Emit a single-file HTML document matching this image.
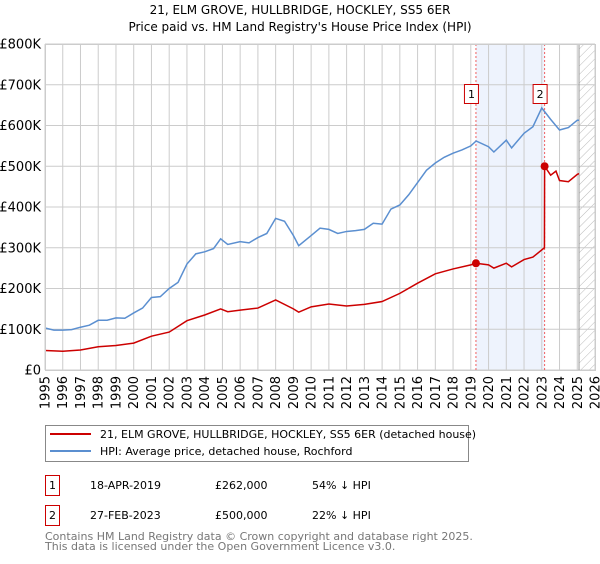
<!DOCTYPE html>
<html><head><meta charset="utf-8"><style>
body{margin:0;background:#fff;font-family:"DejaVu Sans","Liberation Sans",sans-serif;}
svg text{font-family:"DejaVu Sans","Liberation Sans",sans-serif;}
</style></head><body>
<svg id="chart" width="600" height="560" xmlns="http://www.w3.org/2000/svg">
<defs><pattern id="hatch" width="6" height="6" patternUnits="userSpaceOnUse" patternTransform="rotate(45)"><line x1="0" y1="0" x2="0" y2="6" stroke="#bbb" stroke-width="1"/></pattern></defs>
<text x="300" y="14" text-anchor="middle" font-size="12">21, ELM GROVE, HULLBRIDGE, HOCKLEY, SS5 6ER</text>
<text x="300" y="31" text-anchor="middle" font-size="12">Price paid vs. HM Land Registry's House Price Index (HPI)</text>
<g id="grid"></g><g id="marks"></g>
<rect x="45.5" y="425.5" width="423" height="36" fill="#fff" stroke="#888"/>
<line x1="50" y1="434" x2="91" y2="434" stroke="#cc0000" stroke-width="2"/>
<text x="100" y="438" font-size="11">21, ELM GROVE, HULLBRIDGE, HOCKLEY, SS5 6ER (detached house)</text>
<line x1="50" y1="451" x2="91" y2="451" stroke="#5b8fd0" stroke-width="2"/>
<text x="100" y="455" font-size="11">HPI: Average price, detached house, Rochford</text>
<g font-size="11">
<rect x="45.5" y="475.5" width="14" height="20" fill="none" stroke="#cc0000"/><text x="52.5" y="489" text-anchor="middle">1</text>
<text x="90" y="489">18-APR-2019</text><text x="215" y="489">£262,000</text><text x="312" y="489">54% ↓ HPI</text></g>
<g font-size="11">
<rect x="45.5" y="505.5" width="14" height="20" fill="none" stroke="#cc0000"/><text x="52.5" y="519" text-anchor="middle">2</text>
<text x="90" y="519">27-FEB-2023</text><text x="215" y="519">£500,000</text><text x="312" y="519">22% ↓ HPI</text></g>
<text x="45" y="540" font-size="11" fill="#777">Contains HM Land Registry data © Crown copyright and database right 2025.</text>
<text x="45" y="550" font-size="11" fill="#777">This data is licensed under the Open Government Licence v3.0.</text>
</svg>
<script>
const hpiYears=[1995,1995.5,1996,1996.5,1997,1997.5,1998,1998.5,1999,1999.5,2000,2000.5,2001,2001.5,2002,2002.5,2003,2003.5,2004,2004.5,2004.9,2005.3,2006,2006.5,2007,2007.5,2008,2008.5,2009,2009.3,2010,2010.5,2011,2011.5,2012,2012.5,2013,2013.5,2014,2014.5,2015,2015.5,2016,2016.5,2017,2017.5,2018,2018.5,2019,2019.3,2020,2020.3,2021,2021.3,2022,2022.5,2023,2023.5,2024,2024.5,2025,2025.1];
const hpiValues=[103,98,98,99,105,110,122,122,128,127,140,152,178,180,200,215,260,285,290,298,322,308,315,312,325,335,372,365,330,305,330,348,345,335,340,342,345,360,358,395,405,430,460,490,508,522,532,540,550,562,548,535,564,545,581,597,643,615,589,595,613,613];
const ppYears=[1995,1996,1997,1998,1999,2000,2001,2002,2003,2004,2004.9,2005.3,2006,2007,2008,2009,2009.3,2010,2011,2012,2013,2014,2015,2016,2017,2018,2019,2019.29,2020,2020.3,2021,2021.3,2022,2022.5,2023.15,2023.16,2023.5,2023.8,2024,2024.5,2025,2025.1];
const ppValues=[48,46,49,57,60,66,83,93,121,135,150,143,147,152,172,150,142,155,162,157,161,168,188,213,236,248,258,262,258,250,262,253,271,277,300,500,478,488,465,462,480,482];
const saleYears=[2019.29,2023.16];
const saleValues=[262,500];
const saleLabels=["1","2"];
const yTicks=[0,100,200,300,400,500,600,700,800];
const yTickLabels=["£0","£100K","£200K","£300K","£400K","£500K","£600K","£700K","£800K"];
const NS="http://www.w3.org/2000/svg";
const X0=45,X1=595,Y0=370,Y1=44;
const xs=y=>X0+(y-1995)*(X1-X0)/31;
const ys=v=>Y0-v*(Y0-Y1)/800;
function mk(p,t,a){const e=document.createElementNS(NS,t);for(const k in a)e.setAttribute(k,a[k]);p.appendChild(e);return e;}
const grid=document.getElementById('grid'),marks=document.getElementById('marks');
const sh=mk(grid,'rect',{x:xs(saleYears[0]),y:Y1,width:xs(saleYears[1])-xs(saleYears[0]),height:Y0-Y1,fill:'#eef3fd'});


const ht=mk(grid,'rect',{x:xs(2025.1),y:Y1,width:X1-xs(2025.1),height:Y0-Y1,fill:'url(#hatch)'});


for(let yr=1995;yr<=2026;yr++){
 mk(grid,'line',{x1:xs(yr),x2:xs(yr),y1:Y1,y2:Y0,stroke:'#ccc'});
 const t=mk(grid,'text',{x:0,y:0,'font-size':13,'text-anchor':'end',transform:`translate(${xs(yr)+4.5},${Y0+6}) rotate(-90)`});
 t.textContent=yr;
 
 
}
yTicks.forEach((v,i)=>{
 mk(grid,'line',{x1:X0,x2:X1,y1:ys(v),y2:ys(v),stroke:'#ccc'});
 const t=mk(grid,'text',{x:X0-4,y:ys(v)+4.5,'font-size':13,'text-anchor':'end'});
 t.textContent=yTickLabels[i];
 
 
});
mk(grid,'line',{x1:xs(2025.1),x2:xs(2025.1),y1:Y1,y2:Y0,stroke:'#999'});
saleYears.forEach((s,i)=>{
 const l=mk(marks,'line',{x1:xs(s),x2:xs(s),y1:Y1,y2:Y0,stroke:'#f06060','stroke-dasharray':'2,2'});
 
 
});
const hp=mk(marks,'polyline',{points:hpiYears.map((y,i)=>xs(y)+','+ys(hpiValues[i])).join(' '),fill:'none',stroke:'#5b8fd0','stroke-width':1.5});


const pp=mk(marks,'polyline',{points:ppYears.map((y,i)=>xs(y)+','+ys(ppValues[i])).join(' '),fill:'none',stroke:'#cc0000','stroke-width':1.5});


saleYears.forEach((s,i)=>{
 const c=mk(marks,'circle',{cx:xs(s),cy:ys(saleValues[i]),r:4,fill:'#cc0000'});
 
 
 const g=mk(marks,'g',{});
 
 
 mk(g,'rect',{x:xs(s)-11.5,y:84.5,width:14,height:19,fill:'#fff',stroke:'#cc0000'});
 const t=mk(g,'text',{x:xs(s)-4.5,y:98,'font-size':11,'text-anchor':'middle'});
 t.textContent=saleLabels[i];
});
mk(marks,'rect',{x:X0+0.5,y:Y1+0.5,width:X1-X0,height:Y0-Y1,fill:'none',stroke:'#ccc'});
</script>
</body></html>
